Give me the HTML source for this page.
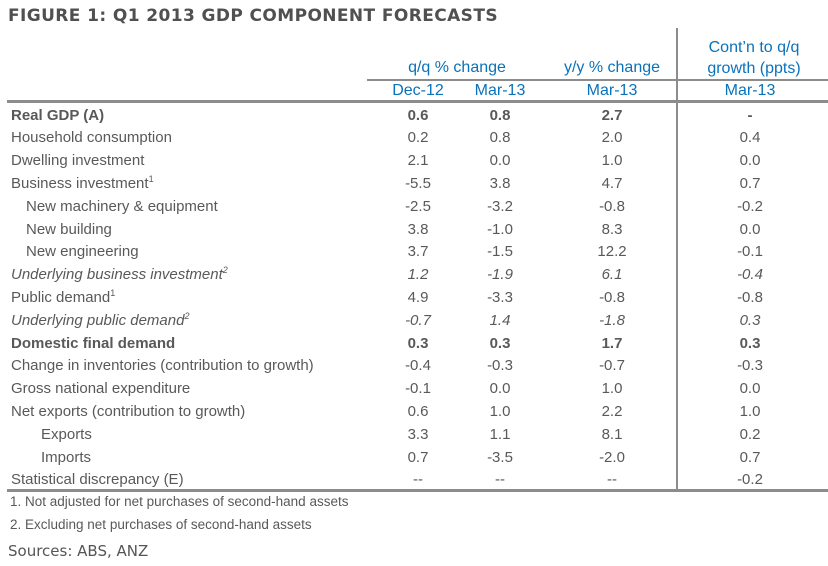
<!DOCTYPE html>
<html><head><meta charset="utf-8"><style>
body{margin:0;width:828px;height:566px;background:#fff;position:relative;overflow:hidden;font-family:"Liberation Sans Narrow","Liberation Sans",sans-serif;color:#595959}
.a{position:absolute;white-space:nowrap}
.t{font-family:"DejaVu Sans","Liberation Sans",sans-serif;font-weight:bold;font-size:17px;color:#505050;left:8px;top:6px;letter-spacing:0.4px}
.h{color:#0a72ba;font-size:16px;text-align:center}
.r{font-size:15px;line-height:18px}
.c{text-align:center;width:80px}
.line{position:absolute;background:#8c8c8c}
.b{font-weight:bold}.i{font-style:italic}
sup{font-size:9px;vertical-align:6px;line-height:0}
</style></head><body>
<div class="a t">FIGURE 1: Q1 2013 GDP COMPONENT FORECASTS</div>
<div class="a h" style="left:377px;top:59px;width:160px">q/q % change</div>
<div class="a h" style="left:552px;top:59px;width:120px">y/y % change</div>
<div class="a h" style="left:680px;top:37px;width:148px;line-height:21px">Cont’n to q/q<br>growth (ppts)</div>
<div class="line" style="left:676px;top:28px;width:2px;height:464px"></div>
<div class="line" style="left:367px;top:79px;width:461px;height:2px"></div>
<div class="a h" style="left:378px;top:82px;width:80px">Dec-12</div>
<div class="a h" style="left:460px;top:82px;width:80px">Mar-13</div>
<div class="a h" style="left:572px;top:82px;width:80px">Mar-13</div>
<div class="a h" style="left:710px;top:82px;width:80px">Mar-13</div>
<div class="line" style="left:7px;top:100px;width:821px;height:3px"></div>
<div id="rows"></div>
<div class="line" style="left:7px;top:489px;width:821px;height:3px"></div>
<div class="a" style="left:10px;top:494px;font-size:13.5px">1. Not adjusted for net purchases of second-hand assets</div>
<div class="a" style="left:10px;top:517px;font-size:13.5px">2. Excluding net purchases of second-hand assets</div>
<div class="a" style="left:8px;top:542px;font-size:15px;font-family:'DejaVu Sans','Liberation Sans',sans-serif;color:#555">Sources: ABS, ANZ</div>
<script>
const labels=["Real GDP (A)","Household consumption","Dwelling investment","Business investment<sup>1</sup>","New machinery &amp; equipment","New building","New engineering","Underlying business investment<sup>2</sup>","Public demand<sup>1</sup>","Underlying public demand<sup>2</sup>","Domestic final demand","Change in inventories (contribution to growth)","Gross national expenditure","Net exports (contribution to growth)","Exports","Imports","Statistical discrepancy (E)"];
const indent=[0,0,0,0,1,1,1,0,0,0,0,0,0,0,2,2,0];
const styles=["b","","","","","","","i","","i","b","","","","","",""];
const dec12=["0.6","0.2","2.1","-5.5","-2.5","3.8","3.7","1.2","4.9","-0.7","0.3","-0.4","-0.1","0.6","3.3","0.7","--"];
const mar13qq=["0.8","0.8","0.0","3.8","-3.2","-1.0","-1.5","-1.9","-3.3","1.4","0.3","-0.3","0.0","1.0","1.1","-3.5","--"];
const mar13yy=["2.7","2.0","1.0","4.7","-0.8","8.3","12.2","6.1","-0.8","-1.8","1.7","-0.7","1.0","2.2","8.1","-2.0","--"];
const cont=["-","0.4","0.0","0.7","-0.2","0.0","-0.1","-0.4","-0.8","0.3","0.3","-0.3","0.0","1.0","0.2","0.7","-0.2"];
const host=document.getElementById('rows');
const cols=[[dec12,378],[mar13qq,460],[mar13yy,572],[cont,710]];
labels.forEach((l,k)=>{
  const top=106.5+k*22.8;
  const d=document.createElement('div');
  d.className='a r '+styles[k];
  d.style.left=(11+indent[k]*15)+'px';d.style.top=top+'px';
  d.innerHTML=l;
  
  
  host.appendChild(d);
  cols.forEach(([arr,x])=>{
    const v=document.createElement('div');
    v.className='a r c '+styles[k];
    v.style.left=x+'px';v.style.top=top+'px';
    v.textContent=arr[k];
    
    
    host.appendChild(v);
  });
});
</script>
</body></html>
